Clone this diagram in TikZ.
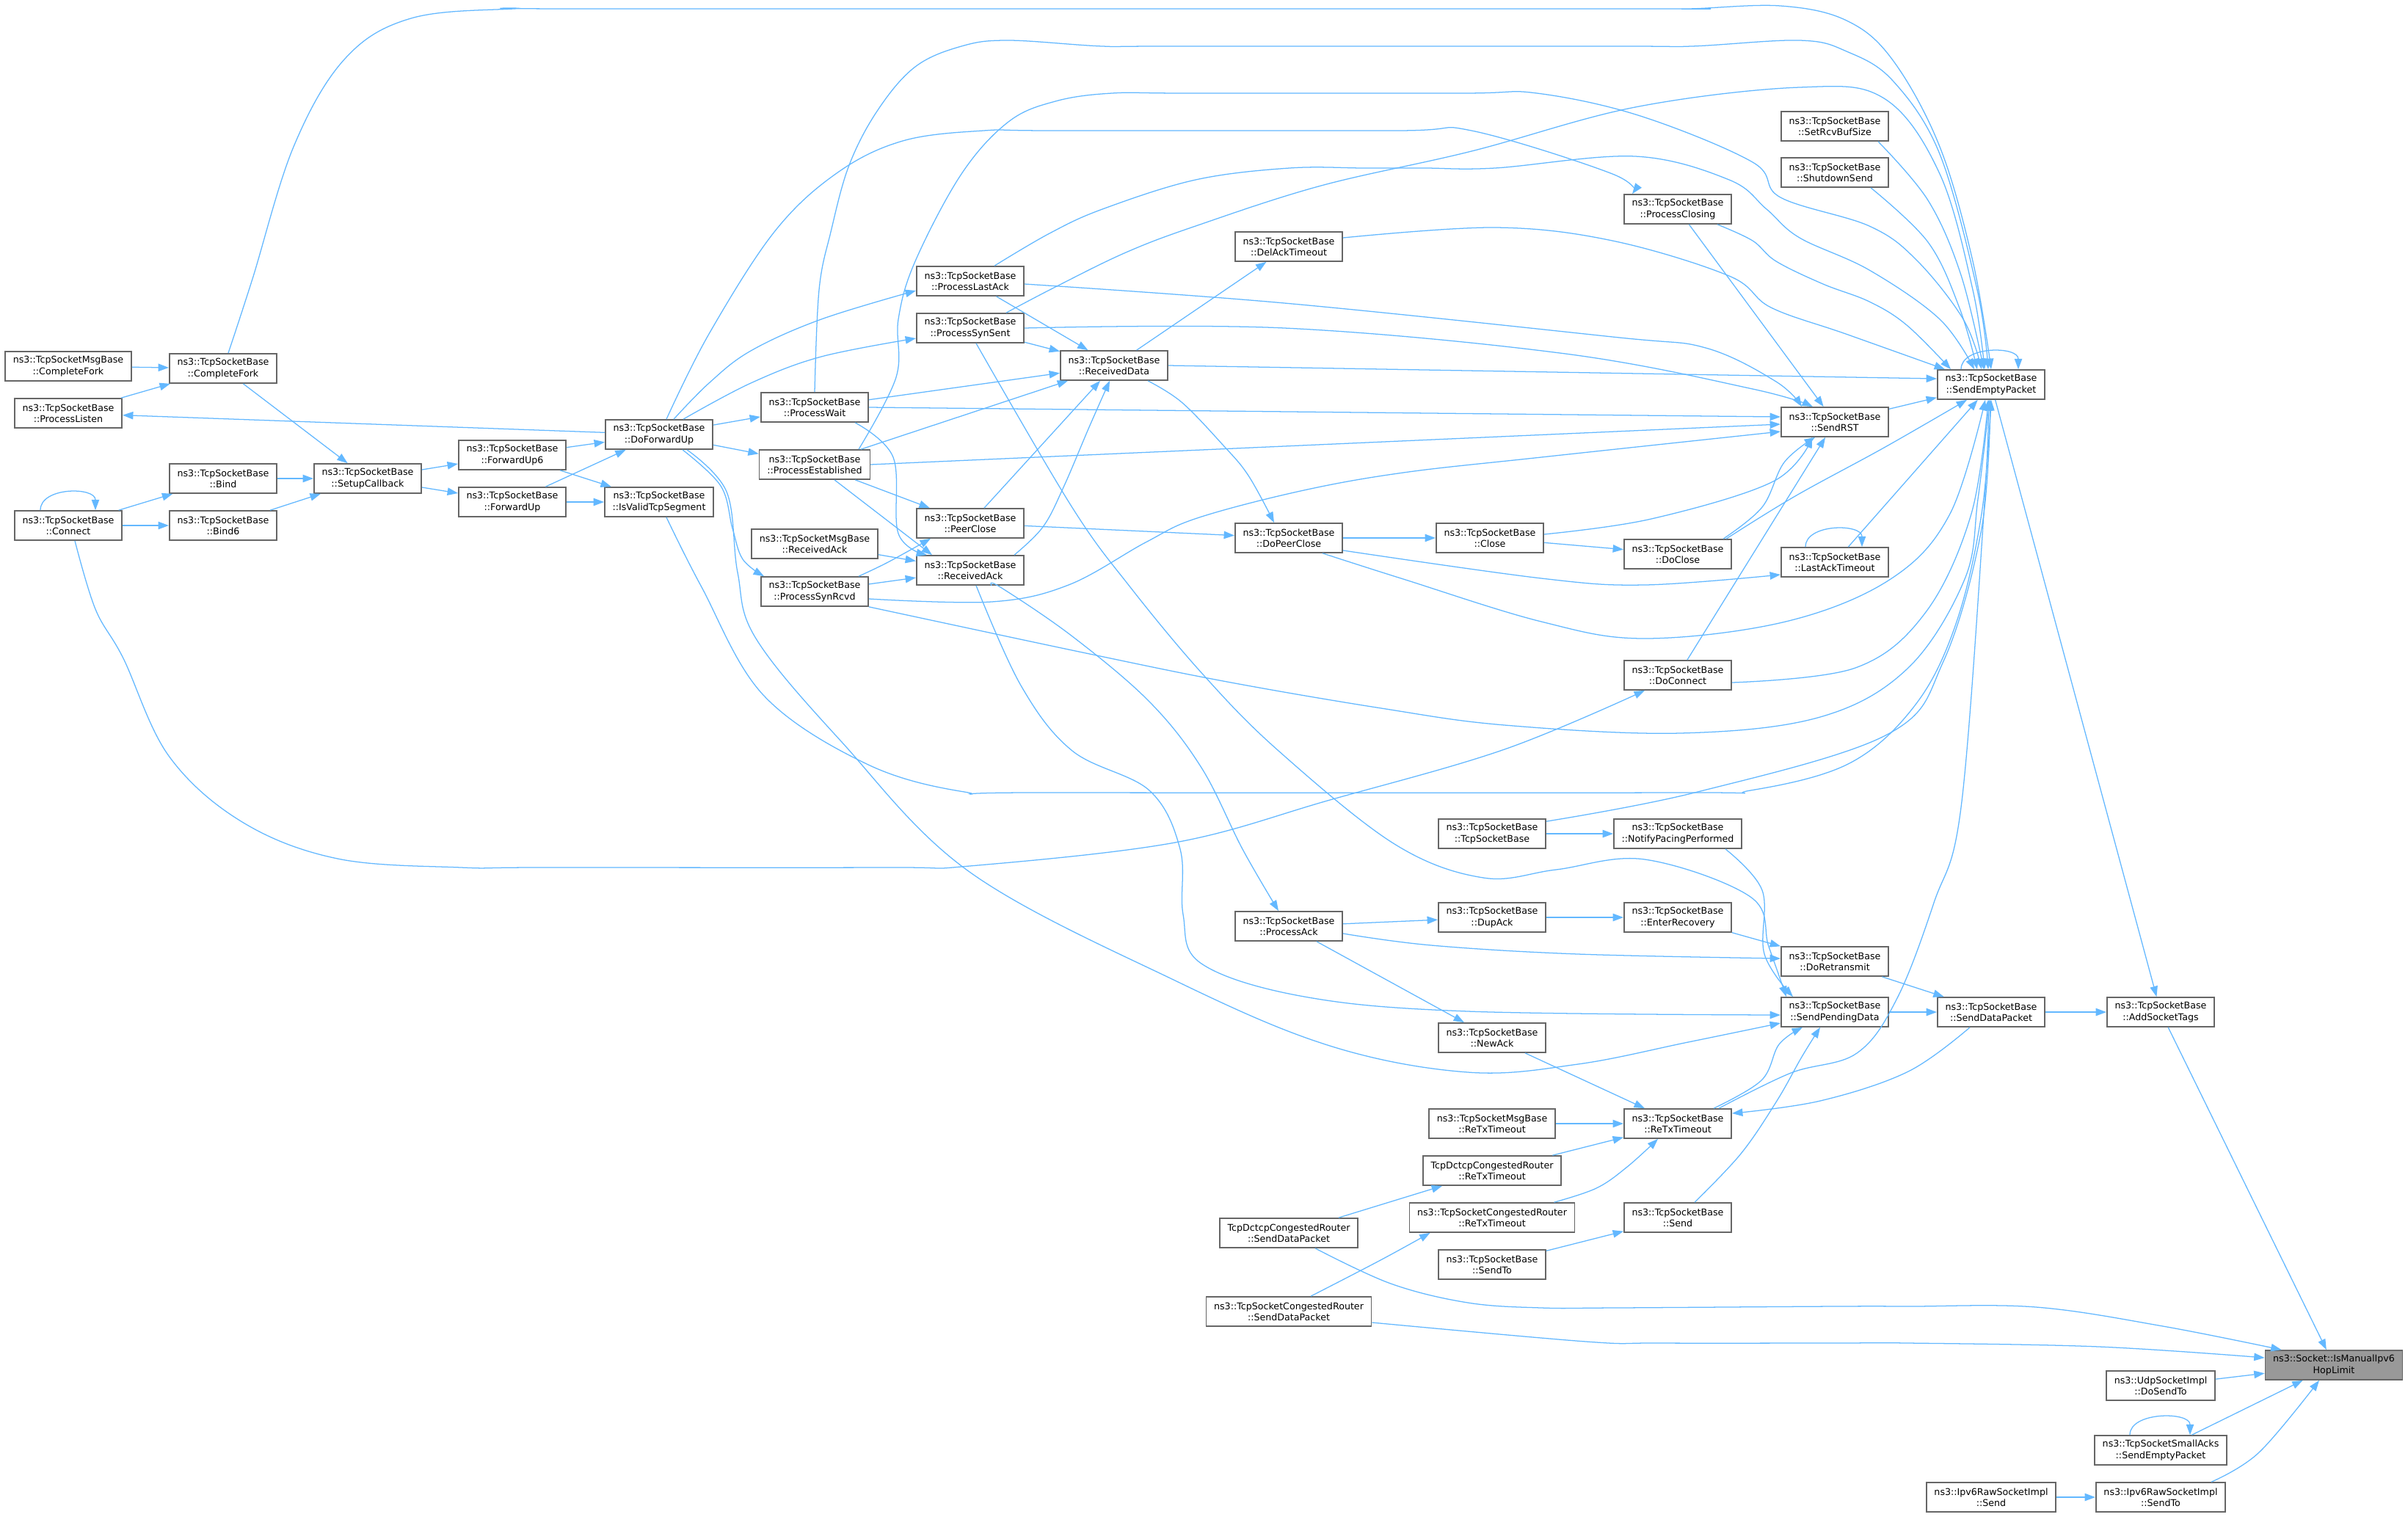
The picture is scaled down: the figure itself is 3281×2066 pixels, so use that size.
\documentclass[tikz,border=0pt]{standalone}
\usepackage{fontspec}
\newfontfamily\dejavu{DejaVu Sans}
\usetikzlibrary{arrows.meta,calc}
\definecolor{callblue}{HTML}{63B8FF}
\definecolor{boxgray}{HTML}{666666}
\definecolor{rootgray}{HTML}{999999}

\begin{document}
\begin{tikzpicture}[x=0.025cm,y=-0.025cm,
        fn/.style = {draw=boxgray, fill=white, line width=1.2pt,
            align=center, font=\dejavu\fontsize{9}{10.8}\selectfont,
            inner xsep=7.6pt, inner ysep=2pt, minimum height=1cm},
        root/.style = {fn, fill=rootgray},
        call/.style = {draw=callblue, line width=0.9pt,
            -{Triangle[length=0.36cm,width=0.26cm]}},
        ]

    \fill[white] (0,0) rectangle (3281,2066);
    \useasboundingbox (0,0) rectangle (3281,2066);

    % Setup and forwarding
    \node[fn] (msgCompleteFork) at (93,499) {ns3::TcpSocketMsgBase\\::CompleteFork};
    \node[fn] (completeFork) at (304,502) {ns3::TcpSocketBase\\::CompleteFork};
    \node[fn] (processListen) at (93,563) {ns3::TcpSocketBase\\::ProcessListen};
    \node[fn] (connect) at (93,716) {ns3::TcpSocketBase\\::Connect};
    \node[fn] (bind) at (304,652) {ns3::TcpSocketBase\\::Bind};
    \node[fn] (bind6) at (304,716) {ns3::TcpSocketBase\\::Bind6};
    \node[fn] (setupCallback) at (501,652) {ns3::TcpSocketBase\\::SetupCallback};
    \node[fn] (forwardUp6) at (698,620) {ns3::TcpSocketBase\\::ForwardUp6};
    \node[fn] (forwardUp) at (698,684) {ns3::TcpSocketBase\\::ForwardUp};
    \node[fn] (doForwardUp) at (898,592) {ns3::TcpSocketBase\\::DoForwardUp};
    \node[fn] (isValid) at (898,684) {ns3::TcpSocketBase\\::IsValidTcpSegment};

    % State processing
    \node[fn] (processWait) at (1110,555) {ns3::TcpSocketBase\\::ProcessWait};
    \node[fn] (processEstablished) at (1110,633) {ns3::TcpSocketBase\\::ProcessEstablished};
    \node[fn] (msgReceivedAck) at (1110,741) {ns3::TcpSocketMsgBase\\::ReceivedAck};
    \node[fn] (processSynRcvd) at (1110,806) {ns3::TcpSocketBase\\::ProcessSynRcvd};
    \node[fn] (processLastAck) at (1322,383) {ns3::TcpSocketBase\\::ProcessLastAck};
    \node[fn] (processSynSent) at (1322,447) {ns3::TcpSocketBase\\::ProcessSynSent};
    \node[fn] (peerClose) at (1322,713) {ns3::TcpSocketBase\\::PeerClose};
    \node[fn] (receivedAck) at (1322,777) {ns3::TcpSocketBase\\::ReceivedAck};
    \node[fn] (receivedData) at (1518,498) {ns3::TcpSocketBase\\::ReceivedData};
    \node[fn] (delAck) at (1756,336) {ns3::TcpSocketBase\\::DelAckTimeout};
    \node[fn] (doPeerClose) at (1756,733) {ns3::TcpSocketBase\\::DoPeerClose};
    \node[fn] (processAck) at (1756,1262) {ns3::TcpSocketBase\\::ProcessAck};
    \node[fn] (dctcpSend) at (1756,1680) {TcpDctcpCongestedRouter\\::SendDataPacket};
    \node[fn] (congSend) at (1756,1787) {ns3::TcpSocketCongestedRouter\\::SendDataPacket};

    % Closing, timers and sending
    \node[fn] (close) at (2030,733) {ns3::TcpSocketBase\\::Close};
    \node[fn] (tcpCtor) at (2033,1136) {ns3::TcpSocketBase\\::TcpSocketBase};
    \node[fn] (dupAck) at (2033,1250) {ns3::TcpSocketBase\\::DupAck};
    \node[fn] (newAck) at (2033,1414) {ns3::TcpSocketBase\\::NewAck};
    \node[fn] (msgReTx) at (2033,1531) {ns3::TcpSocketMsgBase\\::ReTxTimeout};
    \node[fn] (dctcpReTx) at (2033,1595) {TcpDctcpCongestedRouter\\::ReTxTimeout};
    \node[fn] (congReTx) at (2033,1659) {ns3::TcpSocketCongestedRouter\\::ReTxTimeout};
    \node[fn] (sendTo) at (2033,1723) {ns3::TcpSocketBase\\::SendTo};
    \node[fn] (processClosing) at (2286,285) {ns3::TcpSocketBase\\::ProcessClosing};
    \node[fn] (doClose) at (2286,755) {ns3::TcpSocketBase\\::DoClose};
    \node[fn] (doConnect) at (2286,920) {ns3::TcpSocketBase\\::DoConnect};
    \node[fn] (notifyPacing) at (2286,1136) {ns3::TcpSocketBase\\::NotifyPacingPerformed};
    \node[fn] (enterRecovery) at (2286,1250) {ns3::TcpSocketBase\\::EnterRecovery};
    \node[fn] (reTx) at (2286,1531) {ns3::TcpSocketBase\\::ReTxTimeout};
    \node[fn] (send) at (2286,1659) {ns3::TcpSocketBase\\::Send};
    \node[fn] (setRcvBuf) at (2500,172) {ns3::TcpSocketBase\\::SetRcvBufSize};
    \node[fn] (shutdownSend) at (2500,235) {ns3::TcpSocketBase\\::ShutdownSend};
    \node[fn] (sendRST) at (2500,575) {ns3::TcpSocketBase\\::SendRST};
    \node[fn] (lastAck) at (2500,766) {ns3::TcpSocketBase\\::LastAckTimeout};
    \node[fn] (doRetransmit) at (2500,1310) {ns3::TcpSocketBase\\::DoRetransmit};
    \node[fn] (sendPending) at (2500,1379) {ns3::TcpSocketBase\\::SendPendingData};
    \node[fn] (sendEmpty) at (2713,524) {ns3::TcpSocketBase\\::SendEmptyPacket};
    \node[fn] (sendDataPacket) at (2713,1379) {ns3::TcpSocketBase\\::SendDataPacket};
    \node[fn] (rawSend) at (2713,2040) {ns3::Ipv6RawSocketImpl\\::Send};
    \node[fn] (addTags) at (2944,1379) {ns3::TcpSocketBase\\::AddSocketTags};
    \node[fn] (udp) at (2944,1888) {ns3::UdpSocketImpl\\::DoSendTo};
    \node[fn] (smallAcks) at (2944,1976) {ns3::TcpSocketSmallAcks\\::SendEmptyPacket};
    \node[fn] (rawSendTo) at (2944,2040) {ns3::Ipv6RawSocketImpl\\::SendTo};
    \node[root] (isManual) at (3180,1860) {ns3::Socket::IsManualIpv6\\HopLimit};

    % Straight calls
    \draw[call] (msgCompleteFork) -- (completeFork);
    \draw[call] (processListen) -- (completeFork);
    \draw[call] (completeFork) -- (setupCallback);
    \draw[call] (doForwardUp) -- (processListen);
    \draw[call] (connect) -- (bind);
    \draw[call] (connect) -- (bind6);
    \draw[call] (bind) -- (setupCallback);
    \draw[call] (bind6) -- (setupCallback);
    \draw[call] (setupCallback) -- (forwardUp6);
    \draw[call] (setupCallback) -- (forwardUp);
    \draw[call] (forwardUp6) -- (doForwardUp);
    \draw[call] (forwardUp) -- (doForwardUp);
    \draw[call] (forwardUp6) -- (isValid);
    \draw[call] (forwardUp) -- (isValid);
    \draw[call] (doForwardUp) -- (processWait);
    \draw[call] (doForwardUp) -- (processEstablished);
    \draw[call] (processWait) -- (receivedData);
    \draw[call] (processWait.east) -- ($(sendRST.west)+(0,-7)$);
    \draw[call] (processEstablished) -- (receivedData);
    \draw[call] (processEstablished.east) -- ($(sendRST.west)+(0,3)$);
    \draw[call] (processEstablished) -- (peerClose);
    \draw[call] ($(processEstablished.south)+(27,0)$) -- ($(receivedAck.north west)+(22,0)$);
    \draw[call] (processSynRcvd) -- (receivedAck);
    \draw[call] (msgReceivedAck) -- (receivedAck);
    \draw[call] (processLastAck) -- (receivedData);
    \draw[call] (processSynSent) -- (receivedData);
    \draw[call] (peerClose) -- (receivedData);
    \draw[call] (peerClose) -- (doPeerClose);
    \draw[call] (receivedData) -- (delAck);
    \draw[call] (receivedData.east) -- ($(sendEmpty.west)+(0,-8)$);
    \draw[call] (doPeerClose) -- (close);
    \draw[call] (close) -- (doClose);
    \draw[call] (doConnect) -- (sendRST);
    \draw[call] (processClosing) -- (sendRST);
    \draw[call] (sendRST) -- (sendEmpty);
    \draw[call] (lastAck) -- (sendEmpty);
    \draw[call] (sendEmpty) -- (addTags);
    \draw[call] (tcpCtor) -- (notifyPacing);
    \draw[call] (processAck) -- (dupAck);
    \draw[call] (processAck) -- (newAck);
    \draw[call] (dupAck) -- (enterRecovery);
    \draw[call] (enterRecovery) -- (doRetransmit);
    \draw[call] (doRetransmit) -- (sendDataPacket);
    \draw[call] (sendPending) -- (sendDataPacket);
    \draw[call] (sendDataPacket) -- (addTags);
    \draw[call] (newAck) -- (reTx);
    \draw[call] (msgReTx) -- (reTx);
    \draw[call] (dctcpReTx) -- (reTx);
    \draw[call] (sendTo) -- (send);
    \draw[call] (dctcpSend) -- (dctcpReTx);
    \draw[call] (addTags) -- (isManual);
    \draw[call] (udp) -- (isManual);
    \draw[call] (smallAcks) -- (isManual);
    \draw[call] (rawSend) -- (rawSendTo);

    % Recursive calls
    \draw[call] ($(connect.north)+(-38,0)$) .. controls +(0,-32) and +(0,-32) .. ($(connect.north)+(37,0)$);
    \draw[call] ($(sendEmpty.north)+(-41,0)$) .. controls +(0,-32) and +(0,-32) .. ($(sendEmpty.north)+(37,0)$);
    \draw[call] ($(lastAck.north)+(-40,0)$) .. controls +(0,-32) and +(0,-32) .. ($(lastAck.north)+(37,0)$);
    \draw[call] ($(smallAcks.north)+(-42,0)$) .. controls +(0,-32) and +(0,-32) .. ($(smallAcks.north)+(40,0)$);

    % Curved calls
    \draw[call] plot[smooth,tension=0.6] coordinates {($(completeFork.north)+(7,0)$) (344,380) (400,200) (470,80) (560,25) (700,12) (820,12) (2200,12) (2300,12) (2426,8) (2516,28) (2579,82) (2643,200) (2688,356) ($(sendEmpty.north)+(0,0)$)};
    \draw[call] plot[smooth,tension=0.6] coordinates {(processWait.north) (1116,395) (1132,316) (1157,225) (1196,150) (1247,91) (1310,63) (1374,55) (1502,63) (1600,63) (2200,63) (2305,63) (2452,55) (2516,70) (2579,110) (2643,210) (2694,395) ($(sendEmpty.north)+(-4,0)$)};
    \draw[call] plot[smooth,tension=0.6] coordinates {($(processEstablished.north)+(60,0)$) (1221,514) (1224,435) (1247,356) (1310,237) (1374,166) (1438,138) (1515,127) (1620,127) (1990,127) (2094,127) (2235,158) (2388,221) (2426,269) (2547,308) (2611,354) (2675,435) ($(sendEmpty.north)+(-13,0)$)};
    \draw[call] plot[smooth,tension=0.6] coordinates {($(processLastAck.north)+(33,0)$) (1430,318) (1502,285) (1629,245) (1757,229) (1860,229) (1940,229) (2037,229) (2228,213) (2356,245) (2407,285) (2452,324) (2547,368) (2643,435) ($(sendEmpty.north)+(-23,0)$)};
    \draw[call] plot[smooth,tension=0.6] coordinates {($(processSynSent.north)+(49,0)$) (1438,391) (1534,344) (1629,308) (1800,253) (2005,206) (2228,146) (2452,119) (2567,134) (2643,237) (2688,395) ($(sendEmpty.north)+(-9,0)$)};
    \draw[call] plot[smooth,tension=0.6] coordinates {($(delAck.east)+(0,-12)$) (2037,310) (2197,328) (2356,376) (2413,419) (2515,455) ($(sendEmpty.north)+(-63,0)$)};
    \draw[call] plot[smooth,tension=0.6] coordinates {($(doForwardUp.north)+(10,0)$) (966,455) (1055,316) (1140,236) (1230,192) (1340,178) (1440,178) (1900,178) (2005,178) (2197,237) ($(processClosing.north west)+(12,0)$)};
    \draw[call] plot[smooth,tension=0.6] coordinates {($(processClosing.south east)+(-20,0)$) (2388,328) (2420,356) (2484,387) (2547,411) (2598,443) ($(sendEmpty.north)+(-55,0)$)};
    \draw[call] plot[smooth,tension=0.6] coordinates {($(setRcvBuf.south east)+(-15,0)$) (2627,273) (2672,375) ($(sendEmpty.north)+(-10,0)$)};
    \draw[call] plot[smooth,tension=0.6] coordinates {($(shutdownSend.south east)+(-25,0)$) (2627,330) (2670,420) ($(sendEmpty.north)+(-19,0)$)};
    \draw[call] plot[smooth,tension=0.6] coordinates {($(processLastAck.east)+(0,4)$) (1750,413) (2197,459) (2324,474) (2420,520) ($(sendRST.north)+(-45,0)$)};
    \draw[call] plot[smooth,tension=0.6] coordinates {(processSynSent.east) (1750,447) (2133,482) (2388,530) ($(sendRST.north)+(-30,0)$)};
    \draw[call] plot[smooth,tension=0.6] coordinates {($(processSynRcvd.east)+(0,10)$) (1351,820) (1456,797) (1561,739) (1631,706) (1772,669) (1912,644) (2100,623) ($(sendRST.west)+(0,13)$)};
    \draw[call] plot[smooth,tension=0.6] coordinates {(processSynRcvd.south east) (1475,889) (1672,929) (1882,965) (2050,988) (2289,999) (2480,977) (2600,910) (2677,789) (2695,680) ($(sendEmpty.south)+(-2,0)$)};
    \draw[call] plot[smooth,tension=0.6] coordinates {($(isValid.south)+(10,0)$) (956,800) (1040,947) (1181,1041) (1314,1079) (1420,1080) (2280,1080) (2385,1077) (2520,1040) (2610,960) (2665,850) (2700,700) ($(sendEmpty.south)+(0,0)$)};
    \draw[call] plot[smooth,tension=0.6] coordinates {($(tcpCtor.north east)+(0,4)$) (2313,1079) (2571,1001) (2648,901) (2700,720) ($(sendEmpty.south)+(-1,0)$)};
    \draw[call] plot[smooth,tension=0.6] coordinates {($(doConnect.east)+(0,10)$) (2528,910) (2624,834) (2686,700) ($(sendEmpty.south)+(-4,0)$)};
    \draw[call] plot[smooth,tension=0.6] coordinates {($(doPeerClose.south east)+(-28,0)$) (1912,789) (2100,847) (2241,870) (2433,847) (2576,789) (2657,700) ($(sendEmpty.south)+(-8,0)$)};
    \draw[call] plot[smooth,tension=0.6] coordinates {($(doPeerClose.east)+(0,17)$) (2100,788) (2241,797) ($(lastAck.west)+(0,17)$)};
    \draw[call] plot[smooth,tension=0.6] coordinates {($(doClose.north east)+(-12,0)$) (2401,691) (2431,630) ($(sendRST.south)+(-27,0)$)};
    \draw[call] plot[smooth,tension=0.6] coordinates {($(doClose.north east)+(-8,0)$) (2446,676) (2567,610) ($(sendEmpty.south)+(-33,0)$)};
    \draw[call] plot[smooth,tension=0.6] coordinates {($(close.east)+(0,-5)$) (2250,707) (2416,656) ($(sendRST.south)+(-31,0)$)};
    \draw[call] plot[smooth,tension=0.6] coordinates {($(connect.south)+(9,0)$) (130,830) (168,897) (230,1030) (330,1120) (460,1170) (628,1182) (740,1182) (1210,1182) (1321,1180) (1601,1148) (1812,1090) (2050,1021) ($(doConnect.south west)+(29,0)$)};
    \draw[call] plot[smooth,tension=0.6] coordinates {($(receivedData.south east)+(-28,0)$) (1610,548) (1666,606) (1701,648) ($(doPeerClose.north)+(-20,0)$)};
    \draw[call] plot[smooth,tension=0.6] coordinates {($(receivedAck.north east)+(-14,0)$) (1421,718) (1449,664) (1484,582) ($(receivedData.south)+(-6,0)$)};
    \draw[call] plot[smooth,tension=0.6] coordinates {($(receivedAck.south)+(29,0)$) (1363,800) (1461,867) (1566,956) (1637,1046) (1693,1157) ($(processAck.north)+(-14,0)$)};
    \draw[call] plot[smooth,tension=0.6] coordinates {($(receivedAck.south)+(8,0)$) (1391,934) (1461,1023) (1566,1077) (1608,1157) (1612,1246) (1637,1313) (1777,1358) (2000,1378) ($(sendPending.west)+(0,4)$)};
    \draw[call] plot[smooth,tension=0.6] coordinates {($(processSynSent.south)+(8,0)$) (1460,690) (1540,800) (1640,920) (1742,1023) (1900,1150) (2021,1196) (2120,1185) (2241,1171) (2385,1222) (2410,1290) ($(sendPending.north west)+(8,0)$)};
    \draw[call] plot[smooth,tension=0.6] coordinates {($(doForwardUp.south)+(38,0)$) (990,670) (1005,780) (1030,870) (1146,1010) (1321,1188) (1601,1336) (1812,1425) (2000,1461) (2150,1450) (2300,1420) ($(sendPending.west)+(0,15)$)};
    \draw[call] plot[smooth,tension=0.6] coordinates {($(doForwardUp.south)+(32,0)$) (982,662) (998,720) (1012,762) ($(processSynRcvd.north west)+(5,0)$)};
    \draw[call] plot[smooth,tension=0.6] coordinates {($(doForwardUp.north)+(20,0)$) (966,522) (1023,478) (1119,435) ($(processLastAck.west)+(0,13)$)};
    \draw[call] plot[smooth,tension=0.6] coordinates {($(doForwardUp.north)+(33,0)$) (1023,522) (1119,486) ($(processSynSent.west)+(0,14)$)};
    \draw[call] plot[smooth,tension=0.6] coordinates {($(processWait.south)+(55,0)$) (1217,623) (1224,727) ($(receivedAck.north west)+(15,0)$)};
    \draw[call] plot[smooth,tension=0.6] coordinates {($(processSynRcvd.north east)+(-14,0)$) (1210,766) ($(peerClose.south west)+(20,0)$)};
    \draw[call] plot[smooth,tension=0.6] coordinates {($(notifyPacing.south east)+(-23,0)$) (2401,1213) (2404,1300) ($(sendPending.north west)+(17,0)$)};
    \draw[call] plot[smooth,tension=0.6] coordinates {($(processAck.east)+(0,10)$) (1950,1288) (2150,1300) ($(doRetransmit.west)+(0,-4)$)};
    \draw[call] plot[smooth,tension=0.6] coordinates {($(sendDataPacket.south)+(-29,0)$) (2600,1460) (2480,1500) ($(reTx.east)+(0,-14)$)};
    \draw[call] plot[smooth,tension=0.6] coordinates {($(reTx.north east)+(-25,0)$) (2400,1472) (2424,1423) ($(sendPending.south)+(-44,0)$)};
    \draw[call] plot[smooth,tension=0.6] coordinates {($(reTx.north east)+(-18,0)$) (2440,1462) (2530,1435) (2585,1360) (2635,1230) (2672,1100) (2703,700) ($(sendEmpty.south)+(-3,0)$)};
    \draw[call] plot[smooth,tension=0.6] coordinates {($(send.north)+(23,0)$) (2372,1572) (2421,1500) (2455,1440) ($(sendPending.south)+(-20,0)$)};
    \draw[call] plot[smooth,tension=0.6] coordinates {($(congReTx.north east)+(-29,0)$) (2175,1619) (2217,1590) ($(reTx.south)+(-27,0)$)};
    \draw[call] plot[smooth,tension=0.6] coordinates {($(dctcpSend.south east)+(-59,0)$) (1895,1749) (2000,1775) (2100,1782) (2200,1782) (2500,1780) (2600,1780) (2774,1781) (2947,1807) ($(isManual.north west)+(23,0)$)};
    \draw[call] plot[smooth,tension=0.6] coordinates {($(congSend.north)+(30,0)$) (1881,1717) ($(congReTx.south west)+(29,0)$)};
    \draw[call] plot[smooth,tension=0.6] coordinates {($(congSend.east)+(0,15)$) (2161,1828) (2260,1830) (2500,1830) (2600,1830) (2860,1835) ($(isManual.west)+(0,-10)$)};
    \draw[call] plot[smooth,tension=0.6] coordinates {($(rawSendTo.north east)+(-20,0)$) (3078,1979) ($(isManual.south)+(-20,0)$)};

\end{tikzpicture}
\end{document}
